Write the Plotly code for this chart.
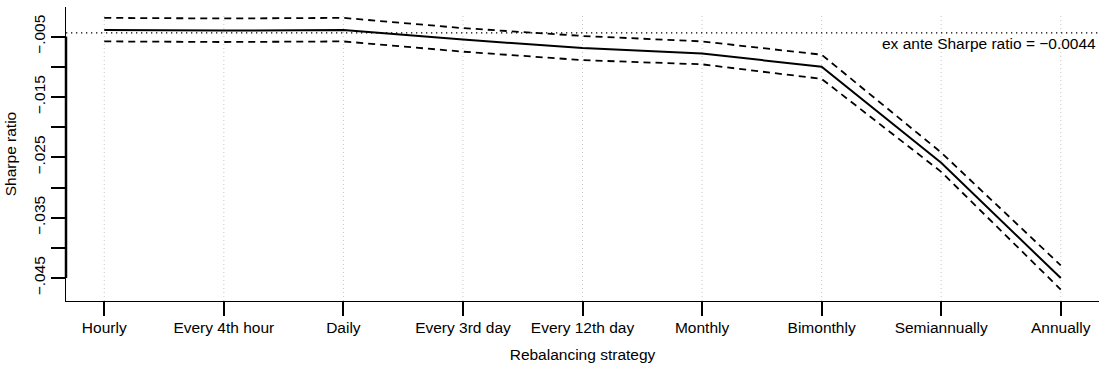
import plotly.graph_objects as go

# Rebalancing strategies and Sharpe ratio estimates with confidence bands
categories = ["Hourly", "Every 4th hour", "Daily", "Every 3rd day", "Every 12th day",
              "Monthly", "Bimonthly", "Semiannually", "Annually"]
sharpe = [-0.0039, -0.0040, -0.0039, -0.0055, -0.0069, -0.0078, -0.0100, -0.0259, -0.0450]
upper = [-0.0019, -0.0020, -0.0019, -0.0036, -0.0049, -0.0058, -0.0080, -0.0242, -0.0429]
lower = [-0.0058, -0.0059, -0.0058, -0.0075, -0.0089, -0.0096, -0.0120, -0.0274, -0.0469]
ex_ante = -0.0044

ytick_vals = [-0.005, -0.010, -0.015, -0.020, -0.025, -0.030, -0.035, -0.040, -0.045]
ytick_text = ["\u2212.005", "", "\u2212.015", "", "\u2212.025", "", "\u2212.035", "", "\u2212.045"]

FONT = "Liberation Sans, Arial, sans-serif"
FS = 15.5

x_idx = list(range(len(categories)))

fig = go.Figure()

# vertical dotted grid lines at each strategy
for i in x_idx:
    fig.add_shape(type="line", xref="x", yref="y domain", x0=i, x1=i, y0=0, y1=0.98,
                  line=dict(color="#c8c8c8", width=1, dash="1px,3px"), layer="below")

# ex ante reference level
fig.add_shape(type="line", xref="paper", yref="y", x0=0, x1=1, y0=ex_ante, y1=ex_ante,
              line=dict(color="black", width=1.3, dash="1.3px,3.7px"))

fig.add_trace(go.Scatter(x=x_idx, y=upper, mode="lines",
                         line=dict(color="black", width=1.8, dash="7px,5px"),
                         showlegend=False, hoverinfo="skip"))
fig.add_trace(go.Scatter(x=x_idx, y=lower, mode="lines",
                         line=dict(color="black", width=1.8, dash="7px,5px"),
                         showlegend=False, hoverinfo="skip"))
fig.add_trace(go.Scatter(x=x_idx, y=sharpe, mode="lines",
                         line=dict(color="black", width=2),
                         showlegend=False))

# heavier axis segment spanning the labelled tick range
fig.add_shape(type="line", xref="paper", yref="y", x0=0, x1=0,
              y0=ytick_vals[0], y1=ytick_vals[-1],
              line=dict(color="black", width=2.5))

fig.add_annotation(xref="paper", yref="y", x=1, y=ex_ante, xanchor="right", yanchor="top",
                   text=f"ex ante Sharpe ratio = {ex_ante:.4f}".replace("-", "\u2212"),
                   showarrow=False, font=dict(family=FONT, size=FS, color="black"),
                   xshift=-1, yshift=0)

fig.update_layout(
    width=1099, height=367,
    margin=dict(l=66, r=0, t=7, b=66),
    paper_bgcolor="white", plot_bgcolor="white",
    font=dict(family=FONT, size=FS, color="black"),
    xaxis=dict(range=[-0.32, 8.32], tickvals=x_idx, ticktext=categories,
               showgrid=False, zeroline=False, showline=True, linecolor="black", linewidth=1.3,
               ticks="outside", ticklen=14, tickwidth=2, tickcolor="black",
               ticklabelstandoff=-2,
               title=dict(text="Rebalancing strategy", standoff=14,
                          font=dict(family=FONT, size=FS))),
    yaxis=dict(range=[-0.0488, -0.0001], tickvals=ytick_vals, ticktext=ytick_text,
               tickangle=-90, showgrid=False, zeroline=False, showline=True,
               linecolor="black", linewidth=1,
               ticks="outside", ticklen=14, tickwidth=2, tickcolor="black",
               title=dict(text="Sharpe ratio", standoff=10,
                          font=dict(family=FONT, size=FS))),
)

fig.write_html("out.html")
